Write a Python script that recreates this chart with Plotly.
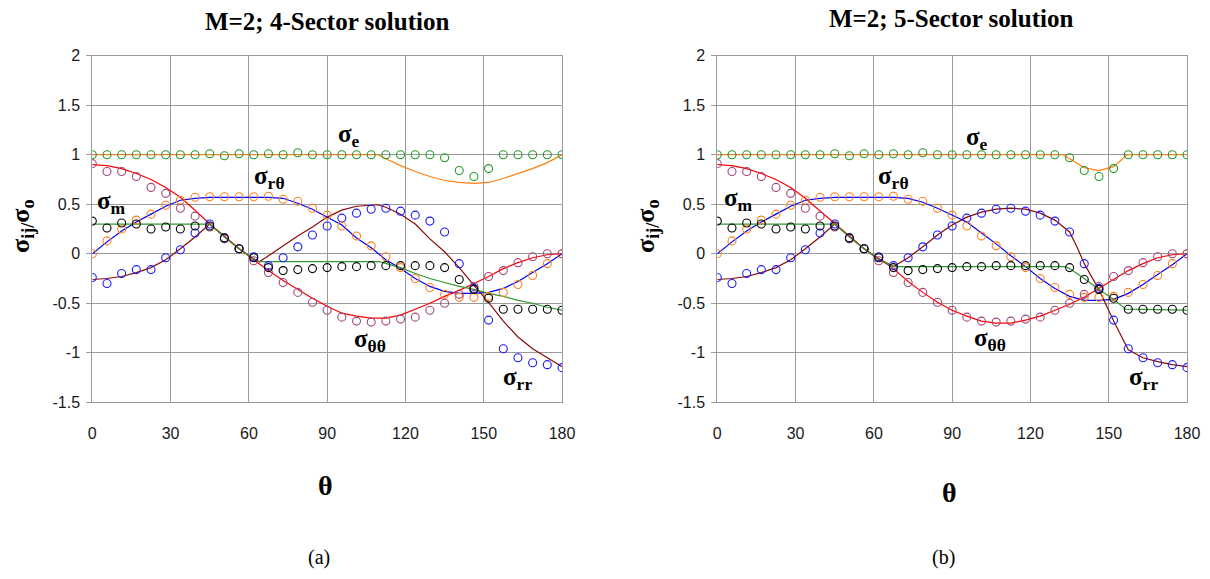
import plotly.graph_objects as go

# ---------------- data ----------------
theta = [0, 5.625, 11.25, 16.875, 22.5, 28.125, 33.75, 39.375, 45, 50.625, 56.25,
         61.875, 67.5, 73.125, 78.75, 84.375, 90, 95.625, 101.25, 106.875, 112.5,
         118.125, 123.75, 129.375, 135, 140.625, 146.25, 151.875, 157.5, 163.125,
         168.75, 174.375, 180]

# numerical (FE) results - open circles, same in both panels
se_pts = [1.00, 1.00, 1.00, 1.00, 1.00, 1.00, 1.00, 1.00, 1.01, 0.99, 1.01, 1.00, 1.01,
          1.00, 1.02, 1.00, 1.00, 1.00, 1.00, 1.00, 1.00, 1.00, 1.00, 1.00, 0.97, 0.84,
          0.78, 0.86, 1.00, 1.00, 1.00, 1.00, 1.00]
stt_pts = [0.91, 0.83, 0.83, 0.78, 0.67, 0.61, 0.46, 0.38, 0.27, 0.15, 0.05, -0.07, -0.19,
           -0.29, -0.39, -0.49, -0.57, -0.64, -0.68, -0.69, -0.68, -0.66, -0.64, -0.57,
           -0.50, -0.41, -0.33, -0.23, -0.17, -0.09, -0.03, 0.00, 0.00]
srt_pts = [0.00, 0.13, 0.25, 0.34, 0.40, 0.49, 0.54, 0.57, 0.575, 0.575, 0.575, 0.575, 0.58,
           0.55, 0.53, 0.46, 0.39, 0.28, 0.18, 0.08, -0.03, -0.14, -0.25, -0.34, -0.41,
           -0.44, -0.44, -0.43, -0.39, -0.31, -0.22, -0.10, 0.00]
srr_pts = [-0.24, -0.30, -0.20, -0.16, -0.16, -0.04, 0.04, 0.21, 0.30, 0.16, 0.05, -0.03,
           -0.12, -0.04, 0.07, 0.19, 0.28, 0.36, 0.41, 0.45, 0.46, 0.43, 0.39, 0.33, 0.22,
           -0.10, -0.35, -0.67, -0.96, -1.05, -1.10, -1.12, -1.15]
sm_pts = [0.33, 0.26, 0.31, 0.30, 0.25, 0.27, 0.25, 0.28, 0.28, 0.16, 0.05, -0.04, -0.14,
          -0.17, -0.16, -0.15, -0.14, -0.13, -0.13, -0.12, -0.12, -0.12, -0.12, -0.12,
          -0.14, -0.26, -0.36, -0.45, -0.56, -0.56, -0.56, -0.56, -0.57]

# ---- (a) 4-sector solution lines ----
se4_x = [0, 109.5, 112.5, 118.125, 123.75, 129.375, 135, 140.625, 146.25, 151.875, 157.5,
         163.125, 168.75, 174.375, 180]
se4_y = [1.00, 1.00, 0.96, 0.89, 0.83, 0.78, 0.74, 0.72, 0.71, 0.72, 0.76, 0.81, 0.86,
         0.92, 1.00]
stt4_y = [0.90, 0.89, 0.86, 0.81, 0.75, 0.67, 0.57, 0.44, 0.30, 0.17, 0.05, -0.06, -0.17,
          -0.27, -0.36, -0.45, -0.53, -0.60, -0.63, -0.65, -0.65, -0.62, -0.56, -0.50,
          -0.43, -0.37, -0.30, -0.23, -0.15, -0.09, -0.04, -0.01, 0.00]
srt4_y = [0.00, 0.12, 0.23, 0.32, 0.40, 0.48, 0.54, 0.56, 0.57, 0.57, 0.57, 0.57, 0.57,
          0.56, 0.51, 0.45, 0.37, 0.29, 0.16, 0.06, -0.06, -0.15, -0.25, -0.33, -0.38,
          -0.40, -0.40, -0.39, -0.35, -0.28, -0.19, -0.10, 0.00]
srr4_x = [0, 5.625, 11.25, 16.875, 22.5, 28.125, 33.75, 39.375, 45, 50.625, 56.25, 61.875,
          64, 67.5, 73.125, 78.75, 84.375, 90, 95.625, 101.25, 106.875, 109.5, 112.5,
          118.125, 123.75, 129.375, 135, 140.625, 146.25, 151.875, 157.5, 163.125, 168.75,
          174.375, 180]
srr4_y = [-0.26, -0.25, -0.23, -0.19, -0.14, -0.06, 0.05, 0.17, 0.30, 0.17, 0.05, -0.05,
          -0.08, -0.02, 0.08, 0.18, 0.27, 0.37, 0.44, 0.48, 0.49, 0.495, 0.47, 0.40, 0.30,
          0.15, 0.02, -0.14, -0.32, -0.49, -0.68, -0.84, -0.96, -1.05, -1.14]
sm4_x = [0, 45, 50.625, 56.25, 61.875, 64, 110, 112.5, 118.125, 123.75, 129.375, 135,
         140.625, 146.25, 151.875, 157.5, 163.125, 168.75, 174.375, 180]
sm4_y = [0.30, 0.30, 0.17, 0.05, -0.05, -0.08, -0.08, -0.10, -0.14, -0.20, -0.25, -0.29,
         -0.33, -0.36, -0.40, -0.43, -0.47, -0.50, -0.54, -0.57]

# ---- (b) 5-sector solution lines ----
se5_x = [0, 132.5, 135, 140.625, 146.25, 151.875, 157, 180]
se5_y = [1.00, 1.00, 0.96, 0.87, 0.84, 0.88, 1.00, 1.00]
stt5_y = [0.90, 0.89, 0.86, 0.81, 0.75, 0.67, 0.56, 0.43, 0.30, 0.17, 0.05, -0.05, -0.15,
          -0.28, -0.39, -0.49, -0.57, -0.63, -0.68, -0.70, -0.70, -0.67, -0.63, -0.57,
          -0.51, -0.44, -0.35, -0.26, -0.17, -0.10, -0.04, -0.01, 0.00]
srt5_y = [0.00, 0.12, 0.23, 0.32, 0.40, 0.48, 0.54, 0.56, 0.57, 0.57, 0.57, 0.57, 0.57,
          0.56, 0.52, 0.46, 0.39, 0.32, 0.21, 0.10, -0.02, -0.13, -0.25, -0.35, -0.43,
          -0.47, -0.47, -0.46, -0.40, -0.31, -0.21, -0.11, 0.00]
srr5_x = [0, 5.625, 11.25, 16.875, 22.5, 28.125, 33.75, 39.375, 45, 50.625, 56.25, 61.875,
          67.5, 73.125, 78.75, 84.375, 90, 95.625, 101.25, 106.875, 112.5, 118.125,
          123.75, 129.375, 135, 137.8, 140.625, 146.25, 151.875, 157.5, 163.125, 168.75,
          174.375, 180]
srr5_y = [-0.26, -0.25, -0.23, -0.19, -0.14, -0.06, 0.05, 0.17, 0.30, 0.17, 0.05, -0.05,
          -0.13, -0.04, 0.07, 0.19, 0.29, 0.37, 0.42, 0.45, 0.46, 0.45, 0.41, 0.34, 0.22,
          0.07, -0.10, -0.36, -0.68, -0.97, -1.05, -1.09, -1.12, -1.14]
sm5_x = [0, 45, 50.625, 56.25, 61.875, 67.5, 133.5, 135, 140.625, 146.25, 151.875, 156.5,
         180]
sm5_y = [0.30, 0.30, 0.17, 0.05, -0.06, -0.13, -0.13, -0.15, -0.25, -0.36, -0.46, -0.56,
         -0.57]

x_ticks = [0, 30, 60, 90, 120, 150, 180]
y_ticks = [2, 1.5, 1, 0.5, 0, -0.5, -1, -1.5]
y_tick_text = ["2", "1.5", "1", "0.5", "0", "-0.5", "-1", "-1.5"]

titles = ["M=2; 4-Sector solution", "M=2; 5-Sector solution"]
panel_tags = ["(a)", "(b)"]

# ---------------- styles ----------------
C_GREEN_PT = "#23992a"
C_ORANGE_PT = "#ff7f1e"
C_MAUVE_PT = "#a3467c"
C_BLUE_PT = "#1a1aff"
C_BLACK_PT = "#000000"
C_ORANGE_LN = "#ff7f0e"
C_BLUE_LN = "#0000ff"
C_RED_LN = "#ff0000"
C_BROWN_LN = "#8b0a0a"
C_GREEN_LN = "#2f9a2f"

SERIF = "Liberation Serif, Times New Roman, serif"
SANS = "Liberation Sans, Arial, sans-serif"

fig = go.Figure()

panels = [
    dict(xa="x", ya="y",
         lines=[(theta, srt4_y, C_BLUE_LN), (srr4_x, srr4_y, C_BROWN_LN),
                (theta, stt4_y, C_RED_LN), (sm4_x, sm4_y, C_GREEN_LN),
                (se4_x, se4_y, C_ORANGE_LN)]),
    dict(xa="x2", ya="y2",
         lines=[(theta, srt5_y, C_BLUE_LN), (srr5_x, srr5_y, C_BROWN_LN),
                (theta, stt5_y, C_RED_LN), (sm5_x, sm5_y, C_GREEN_LN),
                (se5_x, se5_y, C_ORANGE_LN)]),
]

point_sets = [(srr_pts, C_BLUE_PT), (srt_pts, C_ORANGE_PT), (stt_pts, C_MAUVE_PT),
              (sm_pts, C_BLACK_PT), (se_pts, C_GREEN_PT)]

for p in panels:
    for xs, ys, col in p["lines"]:
        fig.add_trace(go.Scatter(x=xs, y=ys, mode="lines", xaxis=p["xa"], yaxis=p["ya"],
                                 line=dict(color=col, width=1.2), showlegend=False,
                                 hoverinfo="skip"))
    for ys, col in point_sets:
        fig.add_trace(go.Scatter(x=theta, y=ys, mode="markers", xaxis=p["xa"], yaxis=p["ya"],
                                 marker=dict(symbol="circle-open", size=8, color=col,
                                             line=dict(width=1.1, color=col)),
                                 showlegend=False, hoverinfo="skip"))

GRID = "#9a9a9a"
W, H = 1210, 579
x_dom = [[92.3 / W, 562.0 / W], [717.3 / W, 1187.0 / W]]
y_dom = [1 - 402.3 / H, 1 - 55.7 / H]

def xaxis(dom, anchor):
    return dict(domain=dom, anchor=anchor, range=[0, 180], tickvals=x_ticks,
                ticktext=[str(v) for v in x_ticks], showgrid=True, gridcolor=GRID,
                gridwidth=1, showline=True, linecolor=GRID, linewidth=1, mirror=True,
                zeroline=False, ticks="", ticklabelstandoff=16, automargin=False,
                tickfont=dict(family=SANS, size=16, color="#1a1a1a"))

def yaxis(anchor):
    return dict(domain=y_dom, anchor=anchor, range=[-1.5, 2], tickvals=y_ticks,
                ticktext=y_tick_text, showgrid=True, gridcolor=GRID, gridwidth=1,
                showline=True, linecolor=GRID, linewidth=1, mirror=True, zeroline=False,
                ticks="outside", ticklen=5, tickcolor=GRID, ticklabelstandoff=3,
                automargin=False,
                tickfont=dict(family=SANS, size=16, color="#1a1a1a"))

fig.update_layout(
    width=W, height=H, autosize=False,
    margin=dict(l=0, r=0, t=0, b=0, pad=0, autoexpand=False),
    paper_bgcolor="white", plot_bgcolor="white",
    xaxis=xaxis(x_dom[0], "y"), yaxis=yaxis("x"),
    xaxis2=xaxis(x_dom[1], "y2"), yaxis2=yaxis("x2"),
    hovermode=False,
)

anns = []
labels = [
    [("σ<sub>e</sub>", 98.5, 1.19), ("σ<sub>rθ</sub>", 68, 0.77), ("σ<sub>m</sub>", 7.5, 0.52),
     ("σ<sub>θθ</sub>", 106.5, -0.88), ("σ<sub>rr</sub>", 162.8, -1.26)],
    [("σ<sub>e</sub>", 99.5, 1.16), ("σ<sub>rθ</sub>", 67.5, 0.77), ("σ<sub>m</sub>", 8, 0.55),
     ("σ<sub>θθ</sub>", 104.5, -0.87), ("σ<sub>rr</sub>", 163.3, -1.26)],
]
for k, (xa, ya) in enumerate([("x", "y"), ("x2", "y2")]):
    for txt, xv, yv in labels[k]:
        anns.append(dict(text="<b>" + txt + "</b>", x=xv, y=yv, xref=xa, yref=ya,
                         xanchor="center", yanchor="middle",
                         showarrow=False, font=dict(family=SERIF, size=25, color="black")))

centers = [327, 951]
ytitle_x = [22, 647]
for k in range(2):
    anns.append(dict(text="<b>" + titles[k] + "</b>", x=centers[k] / W, y=1 - (21 - 3 * k) / H,
                     xref="paper", yref="paper", showarrow=False,
                     xanchor="center", yanchor="middle",
                     font=dict(family=SERIF, size=25, color="black")))
    anns.append(dict(text="<b>σ<sub>ij/</sub>σ<sub>o</sub></b>", x=ytitle_x[k] / W,
                     y=1 - 226 / H, xref="paper", yref="paper", showarrow=False,
                     xanchor="center", yanchor="middle",
                     textangle=-90, font=dict(family=SERIF, size=26, color="black")))
    anns.append(dict(text="<b>θ</b>", x=(centers[k] - 2) / W, y=1 - (485 + 7 * k) / H,
                     xref="paper", yref="paper", showarrow=False,
                     xanchor="center", yanchor="middle",
                     font=dict(family=SERIF, size=28, color="black")))
    anns.append(dict(text=panel_tags[k], x=(centers[k] - 8) / W, y=1 - 557 / H,
                     xref="paper", yref="paper", showarrow=False,
                     xanchor="center", yanchor="middle",
                     font=dict(family=SERIF, size=20, color="black")))

fig.update_layout(annotations=anns)
fig.write_html("out.html", config={"displayModeBar": False, "staticPlot": True},
               post_script="document.body.style.margin='0';document.body.style.padding='0';")
